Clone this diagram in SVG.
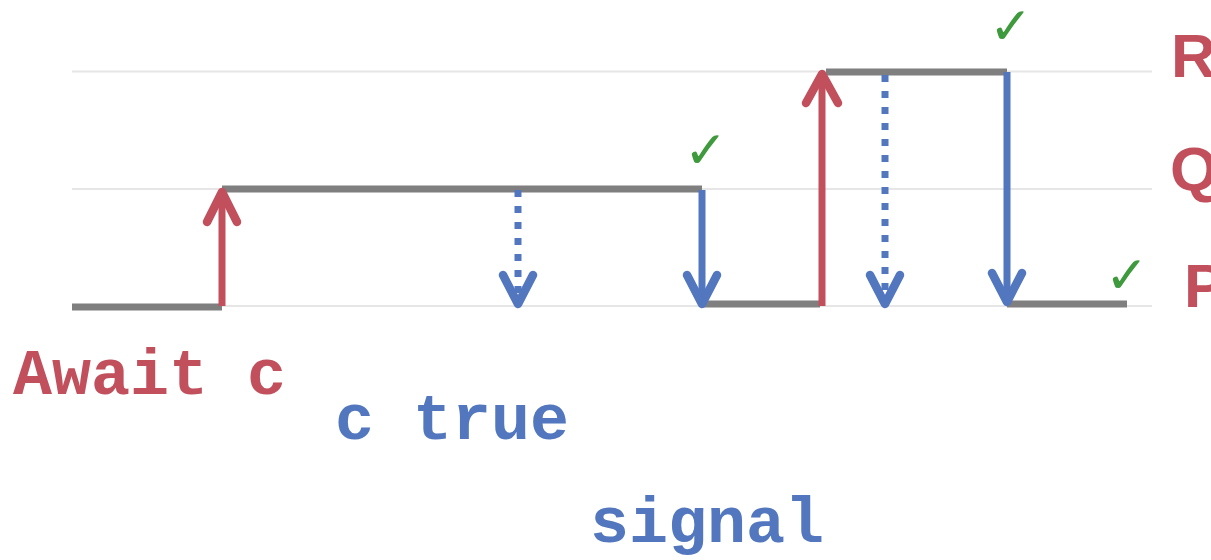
<svg xmlns="http://www.w3.org/2000/svg" width="1211" height="560" viewBox="0 0 1211 560">
<style>
.grid{stroke:#e6e6e6;stroke-width:2}
.lvl{stroke:#7f7f7f;stroke-width:7}
.red{stroke:#c1505c;stroke-width:7;fill:none;stroke-linecap:round;stroke-linejoin:round}
.blue{stroke:#5277be;stroke-width:7;fill:none;stroke-linecap:round;stroke-linejoin:round}
.head{stroke-width:8.5}
.dash{stroke:#5277be;stroke-width:7;fill:none;stroke-dasharray:7 9}
.chk{font-family:"DejaVu Sans",sans-serif;font-weight:bold;font-size:52px;fill:#3e9a3c}
.lab{font-family:"Liberation Sans",Arial,sans-serif;font-weight:bold;font-size:62px;fill:#c1505c}
.mono{font-family:"Liberation Mono","Courier New",monospace;font-weight:bold;font-size:65px}
</style>
<g id="grid">
<line class="grid" x1="72" y1="71.5" x2="1152" y2="71.5"/>
<line class="grid" x1="72" y1="189" x2="1152" y2="189"/>
<line class="grid" x1="72" y1="306" x2="1152" y2="306"/>
</g>
<g id="levels">
<line class="lvl" x1="72" y1="307" x2="222" y2="307"/>
<line class="lvl" x1="222" y1="189" x2="702" y2="189"/>
<line class="lvl" x1="702" y1="304" x2="820" y2="304"/>
<line class="lvl" x1="826" y1="72" x2="1007" y2="72"/>
<line class="lvl" x1="1007" y1="304" x2="1127" y2="304"/>
</g>
<g id="connectors">
<path class="red" d="M222 306 V194" style="stroke-linecap:butt"/>
<path class="red head" d="M207 222 L222 192 L237 222"/>
<path class="red" d="M822 306 V76" style="stroke-linecap:butt"/>
<path class="red head" d="M806 103 L822 74 L838 103"/>
<line class="dash" x1="518" y1="190" x2="518" y2="298"/>
<path class="blue head" d="M503 275 L518 304 L533 275"/>
<line class="blue" x1="702" y1="190" x2="702" y2="301" style="stroke-linecap:butt"/>
<path class="blue head" d="M687 275 L702 304 L717 275"/>
<line class="dash" x1="885" y1="75" x2="885" y2="298"/>
<path class="blue head" d="M870 275 L885 304 L900 275"/>
<line class="blue" x1="1007" y1="72" x2="1007" y2="300" style="stroke-linecap:butt"/>
<path class="blue head" d="M992 273 L1007 302 L1022 273"/>
</g>
<g id="checks">
<text class="chk" x="684" y="168">✓</text>
<text class="chk" x="989" y="44">✓</text>
<text class="chk" x="1105" y="293">✓</text>
</g>
<g id="labels">
<text class="lab" x="1171" y="77">R</text>
<text class="lab" x="1170" y="190">Q</text>
<text class="lab" x="1184" y="307">P</text>
</g>
<g id="texts">
<text class="mono" x="13" y="394" fill="#c1505c">Await c</text>
<text class="mono" x="335" y="439" fill="#5277be">c true</text>
<text class="mono" x="590" y="542" fill="#5277be">signal</text>
</g>
</svg>
